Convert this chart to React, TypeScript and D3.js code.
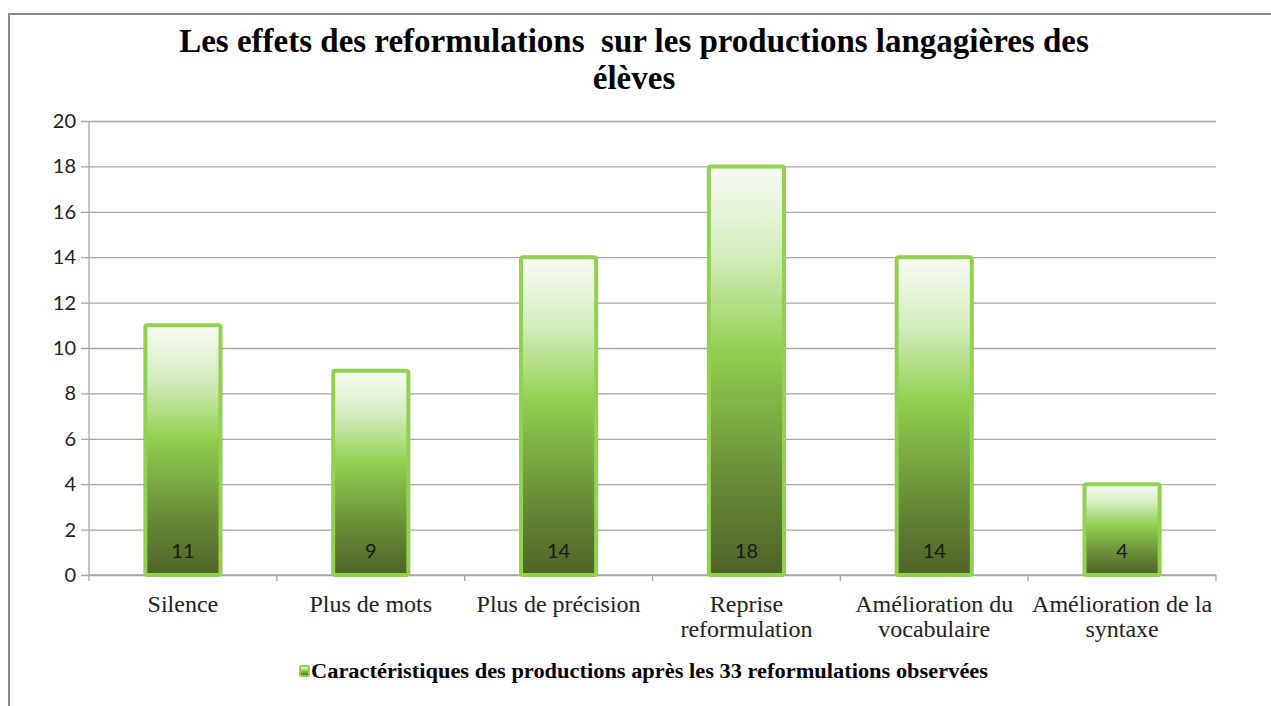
import { useRef, useEffect } from 'react'
import * as d3 from 'd3'

const categories = [
  ['Silence'],
  ['Plus de mots'],
  ['Plus de précision'],
  ['Reprise', 'reformulation'],
  ['Amélioration du', 'vocabulaire'],
  ['Amélioration de la', 'syntaxe'],
]
const values = [11, 9, 14, 18, 14, 4]
const yTicks = [0, 2, 4, 6, 8, 10, 12, 14, 16, 18, 20]
const titleLines = [
  'Les effets des reformulations  sur les productions langagières des',
  'élèves',
]
const legendLabel = 'Caractéristiques des productions après les 33 reformulations observées'

const serif = '"Liberation Serif", "Times New Roman", Times, serif'
const sans = 'Lato, "Open Sans", sans-serif'

const App = () => {
  const svgRef = useRef<SVGSVGElement>(null)

  useEffect(() => {
    const svg = d3.select(svgRef.current)
    svg.selectAll('*').remove()

    const width = 1271
    const height = 706
    const margin = { top: 121, left: 89, right: 55, bottom: 131 }
    const innerWidth = width - margin.left - margin.right
    const innerHeight = height - margin.top - margin.bottom

    // frame
    svg
      .append('path')
      .attr('d', `M9,${height + 5} V14 H${width + 5}`)
      .attr('fill', 'none')
      .attr('stroke', '#8c8c8c')
      .attr('stroke-width', 2)

    const defs = svg.append('defs')
    const grad = defs
      .append('linearGradient')
      .attr('id', 'barGrad')
      .attr('x1', 0)
      .attr('y1', 0)
      .attr('x2', 0)
      .attr('y2', 1)
    grad.append('stop').attr('offset', '0%').attr('stop-color', '#f8fcf4')
    grad.append('stop').attr('offset', '22%').attr('stop-color', '#d3ecbd')
    grad.append('stop').attr('offset', '45%').attr('stop-color', '#92d050')
    grad.append('stop').attr('offset', '75%').attr('stop-color', '#6a8f38')
    grad.append('stop').attr('offset', '100%').attr('stop-color', '#4f6228')

    // title
    svg
      .append('text')
      .attr('font-family', serif)
      .attr('font-weight', 'bold')
      .attr('font-size', 33)
      .attr('text-anchor', 'middle')
      .attr('fill', '#000')
      .selectAll('tspan')
      .data(titleLines)
      .join('tspan')
      .attr('x', 634)
      .attr('y', (d, i) => 52 + i * 37)
      .style('white-space', 'pre')
      .text((d) => d)

    const g = svg
      .append('g')
      .attr('transform', `translate(${margin.left} ${margin.top})`)

    const xScale = d3
      .scaleBand<number>()
      .domain(d3.range(values.length))
      .range([0, innerWidth])
      .paddingInner(0.6)
      .paddingOuter(0.3)

    const yScale = d3.scaleLinear().domain([0, 20]).range([innerHeight, 0])

    const yAxis = d3
      .axisLeft(yScale)
      .tickValues(yTicks)
      .tickSize(-innerWidth)
      .tickPadding(13)
    const yAxisGroup = g.append('g').call(yAxis)
    yAxisGroup.select('.domain').remove()
    yAxisGroup
      .selectAll('.tick line')
      .attr('x1', -8)
      .attr('stroke', '#a6a6a6')
      .attr('stroke-width', 1.3)
    yAxisGroup
      .selectAll('.tick text')
      .attr('font-family', sans)
      .attr('font-size', 20)
      .attr('fill', '#222')

    // y axis line
    g.append('line')
      .attr('x1', 0)
      .attr('x2', 0)
      .attr('y1', 0)
      .attr('y2', innerHeight)
      .attr('stroke', '#a6a6a6')
      .attr('stroke-width', 1.3)

    // x axis line with boundary ticks
    const step = innerWidth / values.length
    g.append('line')
      .attr('x1', 0)
      .attr('x2', innerWidth)
      .attr('y1', innerHeight)
      .attr('y2', innerHeight)
      .attr('stroke', '#a6a6a6')
      .attr('stroke-width', 1.3)
    g.selectAll('.xtick')
      .data(d3.range(values.length + 1))
      .join('line')
      .attr('class', 'xtick')
      .attr('x1', (d) => d * step)
      .attr('x2', (d) => d * step)
      .attr('y1', innerHeight)
      .attr('y2', innerHeight + 6)
      .attr('stroke', '#a6a6a6')
      .attr('stroke-width', 1.3)

    // bars
    g.selectAll('.bar')
      .data(values)
      .join('rect')
      .attr('class', 'bar')
      .attr('x', (d, i) => xScale(i)!)
      .attr('y', (d) => yScale(d))
      .attr('width', xScale.bandwidth())
      .attr('height', (d) => innerHeight - yScale(d))
      .attr('rx', 2)
      .attr('fill', 'url(#barGrad)')
      .attr('stroke', '#92d050')
      .attr('stroke-width', 4)

    // data labels
    g.selectAll('.lbl')
      .data(values)
      .join('text')
      .attr('class', 'lbl')
      .attr('x', (d, i) => xScale(i)! + xScale.bandwidth() / 2)
      .attr('y', innerHeight - 17)
      .attr('text-anchor', 'middle')
      .attr('font-family', sans)
      .attr('font-size', 20)
      .attr('fill', '#1a1a1a')
      .text((d) => d)

    // category labels
    g.selectAll('.cat')
      .data(categories)
      .join('text')
      .attr('class', 'cat')
      .attr('text-anchor', 'middle')
      .attr('font-family', serif)
      .attr('font-size', 24)
      .attr('fill', '#222')
      .each(function (lines, i) {
        d3.select(this)
          .selectAll('tspan')
          .data(lines)
          .join('tspan')
          .attr('x', xScale(i)! + xScale.bandwidth() / 2)
          .attr('y', (d, j) => innerHeight + 37 + j * 25)
          .text((d) => d)
      })

    // legend
    const legend = svg.append('g').attr('transform', 'translate(300 678)')
    legend
      .append('rect')
      .attr('x', 0)
      .attr('y', -12)
      .attr('width', 9)
      .attr('height', 10)
      .attr('rx', 1.5)
      .attr('fill', 'url(#barGrad)')
      .attr('stroke', '#92d050')
      .attr('stroke-width', 2)
    legend
      .append('text')
      .attr('x', 11)
      .attr('y', 0)
      .attr('font-family', serif)
      .attr('font-weight', 'bold')
      .attr('font-size', 20)
      .attr('textLength', 677)
      .attr('lengthAdjust', 'spacingAndGlyphs')
      .attr('fill', '#000')
      .text(legendLabel)
  }, [])

  return (
    <div>
      <svg
        width="1271"
        height="706"
        ref={svgRef}
        style={{ position: 'absolute', left: 0, top: 0, background: '#fff' }}
      ></svg>
    </div>
  )
}

export default App
